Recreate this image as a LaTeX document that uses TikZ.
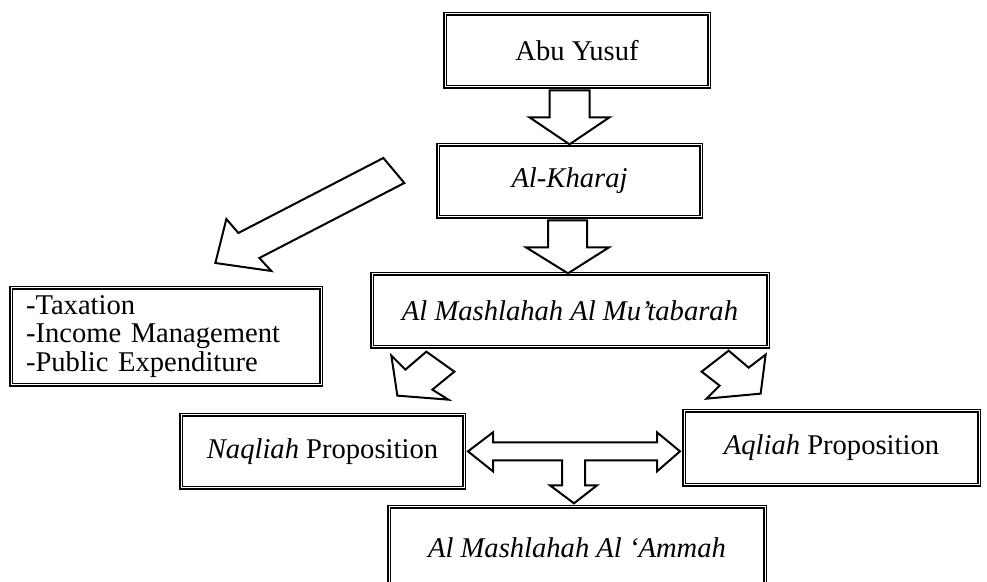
\documentclass[tikz,border=0pt]{standalone}
\usepackage{fontspec}
\setmainfont{Liberation Serif}
\usepackage{tikz}
\usetikzlibrary{positioning}

\begin{document}
\begin{tikzpicture}[x=0.5pt,y=-0.5pt,
  box/.style={draw, double, double distance=0.5pt, line width=0.65pt, fill=white,
    inner sep=0pt, font=\fontsize{14.3}{14.3}\selectfont},
  blockarrow/.style={draw, line width=1pt, fill=white, line join=miter}]
\useasboundingbox (0,0) rectangle (987,582);
% boxes
\node[box, minimum width=132pt, minimum height=36.5pt] (abu) at (577,50.5) {Abu Yusuf};
\node[box, minimum width=131.5pt, minimum height=36pt] (kharaj) at (569.5,181) {\textit{Al-Kharaj}};
\node[box, minimum width=198pt, minimum height=36.5pt] (mutabarah) at (570,310.5) {\textit{Al Mashlahah Al Mu’tabarah}};
\node[box, minimum height=48.5pt, text width=140pt, align=left, inner xsep=7.5pt] (tax) at (166,336.5)
  {-Taxation\\-Income Management\\-Public Expenditure};
\node[box, minimum width=141.5pt, minimum height=36.5pt] (naqliah) at (322.5,451.5) {\textit{Naqliah} Proposition};
\node[box, minimum width=147.5pt, minimum height=37pt] (aqliah) at (831.5,448) {\textit{Aqliah} Proposition};
\node[box, minimum width=188pt, minimum height=40.5pt] (ammah) at (577,547.5) {\textit{Al Mashlahah Al ‘Ammah}};
% arrows
\draw[blockarrow, shift={(kharaj.north)}] (-20,-54) -- (20,-54) -- (20,-27) -- (40,-27) -- (0,0)
  -- (-40,-27) -- (-20,-27) -- cycle;
\draw[blockarrow, shift={(mutabarah.north)}] (-22,-53) -- (17,-53) -- (17,-26) -- (39,-26) -- (-2,0)
  -- (-44,-26) -- (-22,-26) -- cycle;
\draw[blockarrow, shift={(kharaj.west)}] (-54,-23) -- (-199,52) -- (-211,38) -- (-222,82)
  -- (-166,90) -- (-178,77) -- (-33,2) -- cycle; %to the list
\draw[blockarrow, shift={(mutabarah.south west)}] (55,4) -- (83,24) -- (61,42) -- (77,52)
  -- (26,48) -- (20,8) -- (34,22) -- cycle;
\draw[blockarrow, shift={(mutabarah.south east)}] (-40,3) -- (-20,20) -- (-3,7) -- (-8,46)
  -- (-62,51) -- (-49,38) -- (-67,24) -- cycle;
\draw[blockarrow, shift={(ammah.north)}] (-109,-55) -- (-84,-74) -- (-84,-64) -- (80,-64) -- (80,-74)
  -- (103,-55) -- (80,-35) -- (80,-46) -- (8,-46) -- (8,-21) -- (20,-21) -- (-3,-3)
  -- (-27,-21) -- (-15,-21) -- (-15,-46) -- (-84,-46) -- (-84,-35) -- cycle;
\end{tikzpicture}
\end{document}
